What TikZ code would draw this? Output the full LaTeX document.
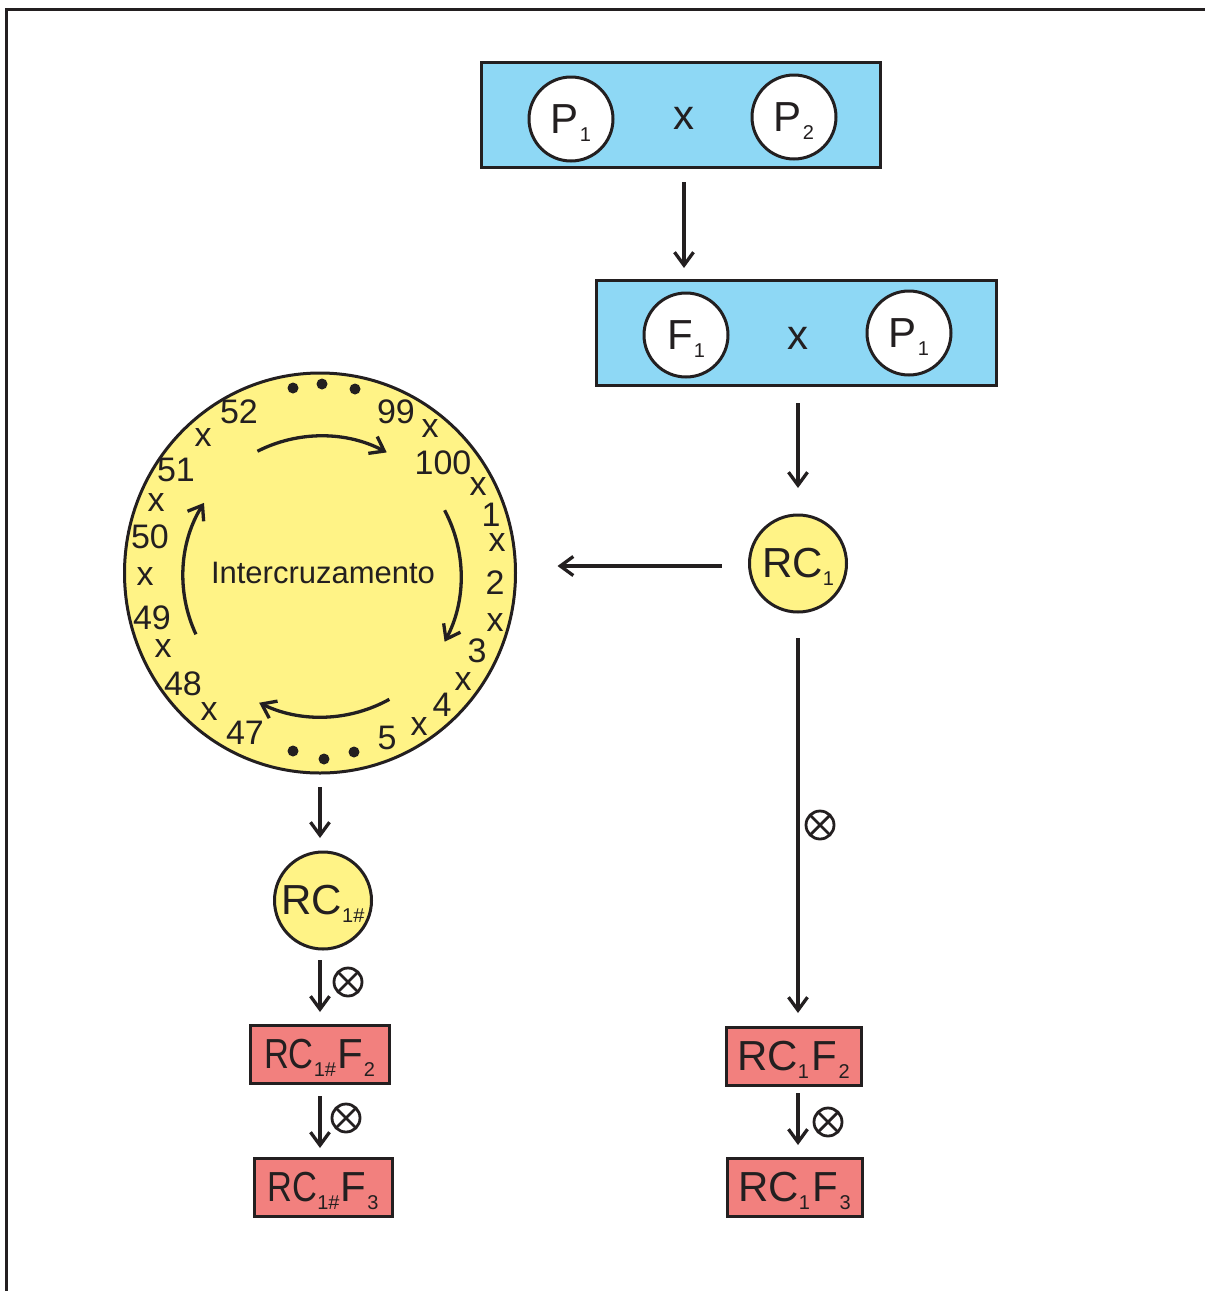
\documentclass[tikz,border=0pt]{standalone}
\usepackage{fontspec}
\setmainfont{Liberation Sans}
\usetikzlibrary{arrows.meta,calc,shapes.geometric}

\definecolor{ink}{RGB}{35,31,32}
\definecolor{boxblue}{RGB}{142,216,245}
\definecolor{pale}{RGB}{255,243,134}
\definecolor{salmon}{RGB}{242,128,126}

% lowered index set in a smaller size, not counted in the line height
\newcommand\lowsub[1]{\raisebox{-8pt}[0pt][0pt]{\fontsize{20}{20}\selectfont #1}}

\tikzset{
  frameline/.style={draw=ink, line width=3.5pt},
  pairbox/.style={draw=ink, line width=3pt, fill=boxblue, minimum width=399pt,
    minimum height=105pt, inner sep=0pt, outer sep=0pt},
  parent/.style={circle, draw=ink, line width=3pt, fill=white, minimum size=84pt,
    inner sep=0pt, outer sep=0pt, text=ink, font=\fontsize{42}{42}\selectfont},
  times/.style={inner sep=0pt, text=ink, font=\fontsize{42}{42}\selectfont},
  popdot/.style={circle, draw=ink, line width=3pt, fill=pale, inner sep=0pt,
    outer sep=0pt, text=ink, font=\fontsize{42}{42}\selectfont},
  genbox/.style={draw=ink, line width=3pt, fill=salmon, minimum width=135pt,
    minimum height=58pt, inner sep=0pt, outer sep=0pt, text=ink,
    font=\fontsize{42}{42}\selectfont},
  num/.style={inner sep=0pt, text=ink, font=\fontsize{34}{34}\selectfont},
  arr/.style={draw=ink, line width=3.3pt, -{Straight Barb[length=13pt,width=19pt]}},
  selfing/.style={circle, draw=ink, line width=2.8pt, minimum size=28pt, inner sep=0pt,
    path picture={\draw[ink, line width=2.8pt]
      (path picture bounding box.north west) -- (path picture bounding box.south east)
      (path picture bounding box.north east) -- (path picture bounding box.south west);}},
}

\begin{document}
\begin{tikzpicture}[x=1pt, y=1pt]
\useasboundingbox (0,0) rectangle (1205,-1291);

% outer frame
\draw[frameline] (6.5,-1291) -- (6.5,-9.5) -- (1205,-9.5);

% first cross
\node[pairbox] (b1) at (680.5,-114.5) {};
\node[parent] (p1) at (571,-119) {P\hspace{1pt}\lowsub{1}};
\node[times] (xa) at (684,-118) {x};
\node[parent] (p2) at (794,-117) {P\hspace{1pt}\lowsub{2}};

% backcross
\node[pairbox, minimum width=400pt] (b2) at (796,-332.5) {};
\node[parent] (f1) at (686,-335) {F\hspace{1pt}\lowsub{1}};
\node[times] (xb) at (798,-338) {x};
\node[parent] (p1b) at (909,-333) {P\hspace{1pt}\lowsub{1}};

% backcross population
\node[popdot, minimum size=97pt] (rc1) at (798,-563.5) {RC\lowsub{1}\hspace{6pt}};

% intercrossing ring
\node[ellipse, draw=ink, line width=3pt, fill=pale, minimum width=391pt,
  minimum height=400pt, inner sep=0pt, outer sep=0pt] (ring) at (320,-573) {};
\node[inner sep=0pt, text=ink, font=\fontsize{31}{31}\selectfont] (inter)
  at (323,-573) {Intercruzamento};

\foreach \t/\px/\py/\n in {
  52/239/412/a, x/203/438/b, 51/176/470/c, x/156/503/d, 50/150/537/e,
  x/145/577/f, 49/152/618/g, x/163/649/h, 48/183/684/i, x/209/712/j,
  47/245/733/k, 5/387/738/l, x/419/727/m, 4/442/705/n, x/463/682/o,
  3/477/651/p, x/495/623/q, 2/495/583/r, x/497/543/s, 1/491/515/t,
  x/478/487/u, 100/443/463/v, x/430/429/w, 99/396/412/y}
  \node[num] (lab\n) at (\px,-\py) {\t};

\foreach \px/\py in {293/388, 322/384, 355/389, 293/751, 324/759, 354/752}
  \fill[ink] (\px,-\py) circle (5.5);

% circulating arrows inside the ring
\coordinate (hub) at (321,-576);
\draw[arr] ([shift={(117:140)}]hub) arc[start angle=117, end angle=62, radius=140];
\draw[arr] ([shift={(28:140)}]hub) arc[start angle=28, end angle=-28, radius=140];
\draw[arr] ([shift={(-61:141)}]hub) arc[start angle=-61, end angle=-116, radius=141];
\draw[arr] ([shift={(205:138)}]hub) arc[start angle=205, end angle=148, radius=138];

% recombined population and its selfed generations
\node[popdot, minimum size=97pt] (rc1h) at (323,-900.5) {RC\lowsub{1\#}\hspace{10pt}};
\node[genbox, minimum width=139pt] (l2) at (319.5,-1054)
  {\scalebox{0.82}[1]{RC}\lowsub{1\#}\hspace{1pt}F\hspace{1pt}\lowsub{2}};
\node[genbox, minimum width=138pt] (l3) at (323,-1187)
  {\scalebox{0.82}[1]{RC}\lowsub{1\#}\hspace{1pt}F\hspace{1pt}\lowsub{3}};

\node[genbox] (r2) at (793.5,-1056) {RC\lowsub{1}\hspace{2pt}F\hspace{2pt}\lowsub{2}};
\node[genbox] (r3) at (794.5,-1187) {RC\lowsub{1}\hspace{2pt}F\hspace{2pt}\lowsub{3}};

% connectors
\draw[arr, shorten <=15pt, shorten >=12pt] (xa |- b1.south) -- (xa |- b2.north);
\draw[arr, shorten <=18pt, shorten >=27pt] (rc1 |- b2.south) -- (rc1.north);
\draw[arr, shorten <=28pt, shorten >=42pt] ([yshift=-2.5pt]rc1.west) -- ([yshift=-2.5pt]rc1.west -| ring.east);
\draw[arr, shorten <=26pt, shorten >=14pt] (rc1.south) -- (rc1 |- r2.north);
\draw[arr, shorten <=8pt, shorten >=13pt] (rc1 |- r2.south) -- (rc1 |- r3.north);
\draw[arr, shorten <=14pt, shorten >=14pt] (ring.south) -- (ring |- rc1h.north);
\draw[arr, shorten <=11pt, shorten >=13pt] (ring |- rc1h.south) -- (ring |- l2.north);
\draw[arr, shorten <=13pt, shorten >=10pt] (ring |- l2.south) -- (ring |- l3.north);

% selfing marks
\node[selfing] (s1) at (820,-825) {};
\node[selfing] (s2) at (828,-1122) {};
\node[selfing] (s3) at (348,-982) {};
\node[selfing] (s4) at (346,-1118) {};
\end{tikzpicture}
\end{document}
